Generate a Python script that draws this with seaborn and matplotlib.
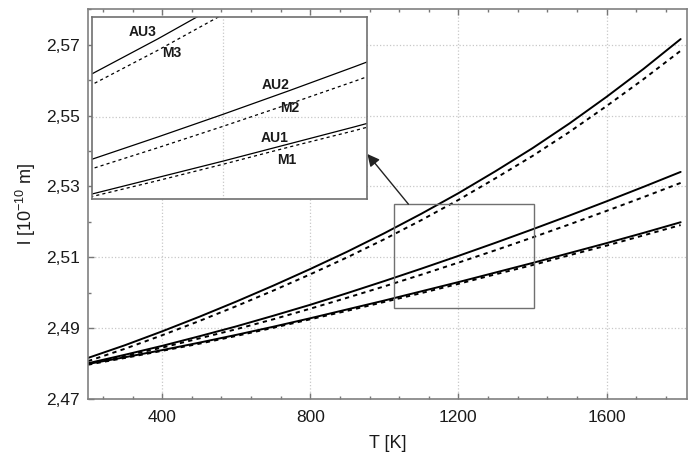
import seaborn as sns
import matplotlib.pyplot as plt
import matplotlib.ticker as mticker
from matplotlib.patches import Rectangle
import pandas as pd

sns.set_style("ticks")
plt.rcParams['font.family'] = ['Liberation Sans', 'DejaVu Sans']
plt.rcParams['mathtext.fontset'] = 'custom'
plt.rcParams['mathtext.rm'] = 'Liberation Sans'

# temperature grid [K] and lattice parameter [1e-10 m]
T = [200, 300, 400, 500, 600, 700, 800, 900, 1000, 1100, 1200,
     1300, 1400, 1500, 1600, 1700, 1800]
AU1 = [2.4799, 2.4818, 2.4838, 2.4859, 2.4881, 2.4904, 2.4928, 2.4953, 2.4978,
       2.5004, 2.5030, 2.5057, 2.5084, 2.5112, 2.5140, 2.5169, 2.5199]
M1 = [2.4797, 2.4816, 2.4836, 2.4856, 2.4878, 2.4901, 2.4925, 2.4949, 2.4974,
      2.4999, 2.5025, 2.5052, 2.5078, 2.5106, 2.5133, 2.5162, 2.5191]
AU2 = [2.4801, 2.4825, 2.4850, 2.4877, 2.4905, 2.4935, 2.4966, 2.4999, 2.5033,
       2.5068, 2.5104, 2.5141, 2.5179, 2.5218, 2.5258, 2.5299, 2.5341]
M2 = [2.4799, 2.4822, 2.4845, 2.4871, 2.4897, 2.4925, 2.4955, 2.4986, 2.5018,
      2.5051, 2.5085, 2.5120, 2.5156, 2.5193, 2.5231, 2.5270, 2.5310]
AU3 = [2.4816, 2.4852, 2.4891, 2.4932, 2.4975, 2.5020, 2.5067, 2.5116, 2.5168,
       2.5223, 2.5281, 2.5343, 2.5408, 2.5478, 2.5553, 2.5632, 2.5716]
M3 = [2.4807, 2.4842, 2.4880, 2.4920, 2.4962, 2.5006, 2.5052, 2.5100, 2.5151,
      2.5205, 2.5262, 2.5323, 2.5386, 2.5454, 2.5527, 2.5603, 2.5683]

series = {'AU1': AU1, 'M1': M1, 'AU2': AU2, 'M2': M2, 'AU3': AU3, 'M3': M3}
rows = []
for name, vals in series.items():
    for t, v in zip(T, vals):
        rows.append({'T': t, 'l': v, 'series': name})
df = pd.DataFrame(rows)

# zoom window (main axes) and inset view
box_x, box_w = 1025, 380
box_y, box_h = 2.4958, 0.0292
ins_xlim = (1000, 1420)
ins_ylim = (2.497, 2.5258)

labels = {'AU3': (0.184, 0.916), 'M3': (0.29, 0.80), 'AU2': (0.667, 0.625),
          'M2': (0.718, 0.50), 'AU1': (0.663, 0.335), 'M1': (0.707, 0.214)}

fig = plt.figure(figsize=(6.88, 4.59), dpi=100)
ax = fig.add_axes([0.128, 0.1307, 0.871, 0.849])


def draw(a, lw, dash):
    for name in series:
        sub = df[df['series'] == name]
        ls = '-' if name.startswith('AU') else (0, dash)
        sns.lineplot(data=sub, x='T', y='l', ax=a, color='black',
                     linewidth=lw, linestyle=ls, legend=False)


draw(ax, 1.4, (2.2, 2.2))

comma = mticker.FuncFormatter(lambda v, _: f"{v:.2f}".replace('.', ','))
ax.set_xlim(200, 1818)
ax.set_ylim(2.47, 2.58)
ax.xaxis.set_major_locator(mticker.FixedLocator([400, 800, 1200, 1600]))
ax.xaxis.set_minor_locator(mticker.MultipleLocator(80))
ax.yaxis.set_major_locator(mticker.FixedLocator([2.47, 2.49, 2.51, 2.53, 2.55, 2.57]))
ax.yaxis.set_minor_locator(mticker.MultipleLocator(0.01))
ax.yaxis.set_major_formatter(comma)
ax.tick_params(which='both', direction='in', top=True, right=False,
               color='#777777', labelsize=12.5)
ax.tick_params(which='both', labelcolor='#1a1a1a')
ax.tick_params(which='major', length=4, width=1)
ax.tick_params(which='minor', length=2.5, width=1)
ax.tick_params(axis='x', pad=8)
ax.tick_params(axis='y', pad=6)
ax.grid(True, which='major', linestyle=':', color='#c8c8c8', linewidth=0.9)
for s in ax.spines.values():
    s.set_color('#808080')
    s.set_linewidth(1.2)
ax.set_xlabel('T [K]', fontsize=13, labelpad=7, color='#1a1a1a')
ax.set_ylabel(r'l [10$^{\mathregular{-10}}$ m]', fontsize=13, labelpad=6,
              color='#1a1a1a')

ax.add_patch(Rectangle((box_x, box_y), box_w, box_h, fill=False,
                       edgecolor='#707070', linewidth=1.0, zorder=3))

axins = fig.add_axes([0.134, 0.5664, 0.400, 0.397])
draw(axins, 0.9, (2.5, 2.5))
axins.set_xlim(*ins_xlim)
axins.set_ylim(*ins_ylim)
axins.set_xticks([1200])
axins.set_yticks([2.51])
axins.tick_params(length=0, labelbottom=False, labelleft=False)
axins.grid(True, linestyle=':', color='#c8c8c8', linewidth=0.9)
axins.set_xlabel('')
axins.set_ylabel('')
for s in axins.spines.values():
    s.set_color('#707070')
    s.set_linewidth(1.2)
for name, (fx, fy) in labels.items():
    axins.text(fx, fy, name, transform=axins.transAxes, fontsize=10,
               fontweight='bold', ha='center', va='center', color='#1a1a1a')

ax.annotate('', xy=(1.0, 0.247), xycoords=axins.transAxes,
            xytext=(1065, box_y + box_h), textcoords='data',
            arrowprops=dict(arrowstyle='-|>', color='#222222', lw=1.0,
                            mutation_scale=18, shrinkA=0, shrinkB=0))

fig.savefig('out.png', dpi=100, facecolor='white')
plt.close(fig)
